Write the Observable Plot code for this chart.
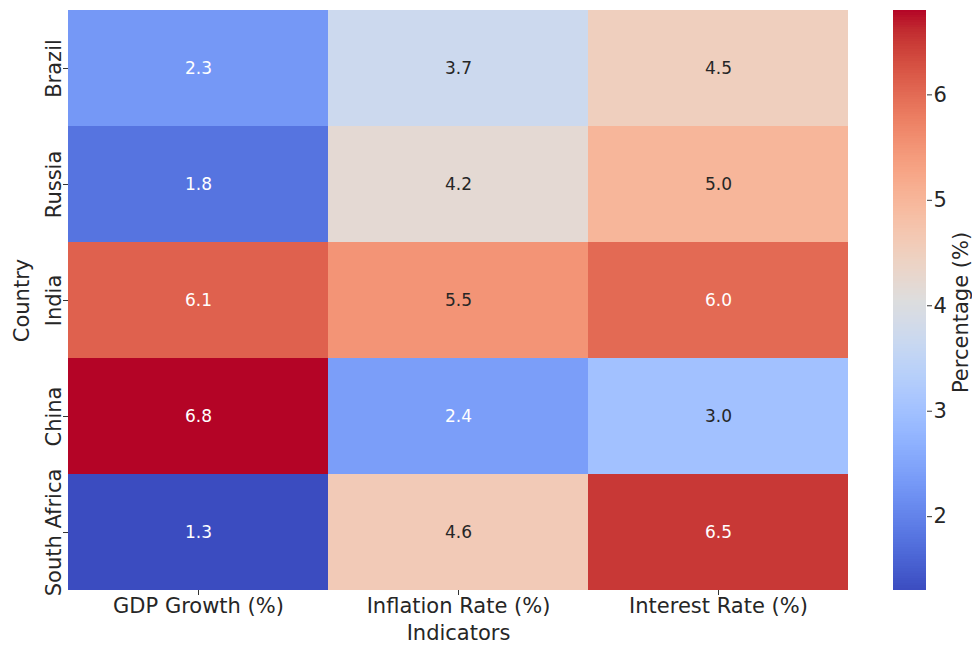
<!DOCTYPE html>
<html>
<head>
<meta charset="utf-8">
<script src="https://cdn.jsdelivr.net/npm/d3@7"></script>
<script src="https://cdn.jsdelivr.net/npm/@observablehq/plot@0.6"></script>
<style>
  html, body { margin: 0; padding: 0; background: #fff; }
  #wrap { position: relative; width: 972px; height: 652px; font-family: "DejaVu Sans", sans-serif; }
  #wrap svg { position: absolute; top: 0; overflow: visible; }
</style>
</head>
<body>
<div id="wrap"></div>
<script>
// ---- data ----
const countries = ["Brazil", "Russia", "India", "China", "South Africa"];
const indicators = ["GDP Growth (%)", "Inflation Rate (%)", "Interest Rate (%)"];
const gdpGrowth = [2.3, 1.8, 6.1, 6.8, 1.3];
const inflationRate = [3.7, 4.2, 5.5, 2.4, 4.6];
const interestRate = [4.5, 5.0, 6.0, 3.0, 6.5];
const colorbarTicks = [2, 3, 4, 5, 6];

const series = [gdpGrowth, inflationRate, interestRate];
const table = [];
countries.forEach((c, i) => indicators.forEach((ind, j) => table.push({country: c, indicator: ind, value: series[j][i]})));

const vmin = d3.min(table, d => d.value), vmax = d3.max(table, d => d.value);

// matplotlib "coolwarm" colormap stops
const coolwarmStops = [
  [59,76,192],[68,90,204],[77,104,215],[87,117,225],[98,130,234],[108,142,241],[119,154,247],[130,165,251],
  [141,176,254],[152,185,255],[163,194,255],[174,201,253],[184,208,249],[194,213,244],[204,217,238],[213,219,230],
  [221,221,221],[229,216,209],[236,211,197],[241,204,185],[245,196,173],[247,187,160],[247,177,148],[247,166,135],
  [244,154,123],[241,141,111],[236,127,99],[229,112,88],[222,96,77],[213,80,66],[203,62,56],[192,40,47],[180,4,38]
].map(([r,g,b]) => `rgb(${r},${g},${b})`);
const coolwarm = d3.piecewise(d3.interpolateRgb, coolwarmStops);
const colorOf = v => coolwarm((v - vmin) / (vmax - vmin));

function luminance(c) {
  const {r, g, b} = d3.rgb(c);
  const lin = x => { x /= 255; return x <= 0.03928 ? x / 12.92 : Math.pow((x + 0.055) / 1.055, 2.4); };
  return 0.2126 * lin(r) + 0.7152 * lin(g) + 0.0722 * lin(b);
}
const isLight = d => luminance(colorOf(d.value)) > 0.408;

const font = "DejaVu Sans";
const colorScale = {type: "linear", domain: [vmin, vmax], interpolate: coolwarm};

const main = Plot.plot({
  width: 848, height: 652,
  marginLeft: 68, marginRight: 0, marginTop: 10, marginBottom: 62,
  style: {fontFamily: font, fontSize: "21px", color: "#262626", background: "transparent"},
  x: {domain: indicators, padding: 0, label: null},
  y: {domain: countries, padding: 0, label: null},
  color: colorScale,
  marks: [
    Plot.cell(table, {x: "indicator", y: "country", fill: "value", inset: 0}),
    Plot.text(table.filter(d => !isLight(d)), {x: "indicator", y: "country", text: d => d.value.toFixed(1), fill: "white", fontSize: 17}),
    Plot.text(table.filter(isLight), {x: "indicator", y: "country", text: d => d.value.toFixed(1), fill: "#262626", fontSize: 17}),
    Plot.axisX({anchor: "bottom", tickSize: 5, tickPadding: 3, stroke: "#333", label: null, fontSize: 21}),
    Plot.axisY({anchor: "left", tickSize: 5, tickPadding: 3, tickRotate: -90, stroke: "#333", label: null, fontSize: 21}),
    Plot.text(["Indicators"], {frameAnchor: "bottom", lineAnchor: "middle", textAnchor: "middle", dy: 43, text: d => d, fontSize: 21, fill: "#262626"}),
    Plot.text(["Country"], {frameAnchor: "left", textAnchor: "middle", lineAnchor: "middle", dx: -46, rotate: -90, text: d => d, fontSize: 21, fill: "#262626"})
  ]
});
main.style.left = "0px";

const cbSteps = d3.range(0, 240).map(i => {
  const a = vmin + (vmax - vmin) * i / 240, b = vmin + (vmax - vmin) * (i + 1) / 240;
  return {y1: a, y2: b, v: (a + b) / 2};
});

const bar = Plot.plot({
  width: 124, height: 652,
  marginLeft: 45, marginRight: 46, marginTop: 10, marginBottom: 62,
  style: {fontFamily: font, fontSize: "21px", color: "#262626", background: "transparent"},
  x: {domain: [0, 1], axis: null},
  y: {domain: [vmin, vmax], label: null},
  color: colorScale,
  marks: [
    Plot.rect(cbSteps, {x1: 0, x2: 1, y1: "y1", y2: "y2", fill: "v", shapeRendering: "crispEdges"}),
    Plot.axisY({anchor: "right", ticks: colorbarTicks, tickSize: 5, tickPadding: 2, stroke: "#333", label: null, fontSize: 21, tickFormat: d3.format("d")}),
    Plot.text(["Percentage (%)"], {frameAnchor: "right", textAnchor: "middle", lineAnchor: "middle", dx: 35, dy: 12, rotate: -90, text: d => d, fontSize: 21, fill: "#262626"})
  ]
});
bar.style.left = "848px";

document.getElementById("wrap").append(main, bar);
</script>
</body>
</html>
